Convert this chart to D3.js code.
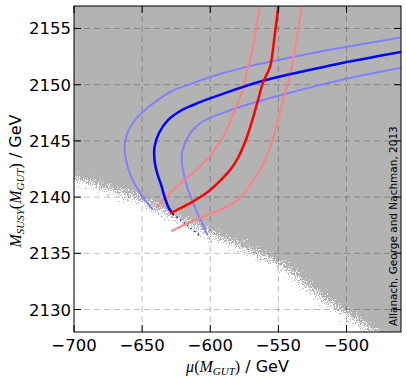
<!DOCTYPE html>
<meta charset="utf-8">
<style>
body { margin: 0; background: #fff; }
text { font-family: "DejaVu Sans", sans-serif; }
.tick-label { font-size: 16.5px; fill: #000; }
.math { font-family: "Liberation Serif", serif; font-style: italic; }
</style>
<body>
<script src="https://d3js.org/d3.v7.min.js"></script>
<script>

// axis ticks
var xTicks = [-700, -650, -600, -550, -500];
var yTicks = [2130, 2135, 2140, 2145, 2150, 2155];

// lower edge of the sampled (grey) region
var edgeMu = [-720, -700, -650, -615, -575, -550, -522, -485, -440];
var edgeM  = [2142.6, 2141.7, 2139.7, 2137.6, 2135.4, 2134.1, 2131.4, 2128.4, 2124.8];

// blue contours (central and the two outer ones)
var blueMu    = [-460, -512.1, -561.3, -592.8, -607.5, -620.7, -631.0, -637.6, -640.9, -640.9, -639.1, -636.1, -633.2, -630.3, -627.3];
var blueM     = [2152.9, 2151.7, 2150.35, 2149.1, 2148.45, 2147.75, 2146.85, 2145.7, 2144.45, 2143.3, 2142.2, 2141.1, 2139.9, 2139.0, 2138.5];
var blueOutMu = [-460, -512.1, -543.7, -570.8, -592.8, -614.9, -629.5, -638.3, -647.9, -656.0, -661.1, -662.9, -661.8, -658.9, -654.1, -648.6, -642.8];
var blueOutM  = [2154.2, 2153.1, 2152.35, 2151.65, 2150.95, 2150.05, 2149.35, 2148.65, 2147.75, 2146.75, 2145.6, 2144.45, 2143.3, 2142.05, 2140.9, 2139.85, 2139.0];
var blueInMu  = [-460, -504.8, -544.4, -570.8, -592.8, -605.3, -613.4, -618.2, -620.7, -620.7, -619.2, -616.7, -613.4, -609.7, -605.3, -602.4];
var blueInM   = [2151.5, 2150.4, 2149.2, 2148.3, 2147.4, 2146.75, 2145.9, 2144.9, 2143.9, 2142.95, 2141.9, 2140.8, 2139.75, 2138.65, 2137.5, 2136.7];

// sparse continuation of the blue contours inside the noisy edge
var blueTailMu    = [-627.3, -618, -608];
var blueTailM     = [2138.5, 2137.6, 2136.6];
var blueOutTailMu = [-642.8, -638, -633.2];
var blueOutTailM  = [2139.0, 2138.5, 2138.05];
var blueInTailMu  = [-602.4, -598.7];
var blueInTailM   = [2136.7, 2135.9];

// red contours
var redMu    = [-549.5, -552.8, -556.1, -561.1, -564.9, -568.6, -573.8, -579.6, -585.5, -592.8, -602.4, -612.7, -622.2, -628.8];
var redM     = [2157.5, 2154.3, 2151.6, 2150.25, 2148.65, 2147.05, 2145.1, 2143.5, 2142.4, 2141.45, 2140.4, 2139.6, 2139.0, 2138.6];
var redLoMu  = [-563.1, -567.2, -571.9, -577.4, -583.3, -589.9, -598.0, -607.5, -616.3, -624.6, -632.5, -639.1];
var redLoM   = [2157.5, 2154.3, 2151.65, 2149.1, 2147.3, 2145.5, 2144.0, 2142.7, 2141.8, 2140.9, 2140.0, 2139.1];
var redHiMu  = [-532.5, -536.3, -540.2, -543.3, -546.6, -550.3, -555.4, -562.0, -570.1, -578.2, -587.0, -595.8, -607.5, -617.8, -628.1];
var redHiM   = [2157.5, 2154.3, 2151.6, 2150.05, 2148.55, 2146.85, 2144.65, 2142.75, 2141.15, 2139.9, 2139.2, 2138.7, 2138.15, 2137.6, 2137.0];

var W = 407, H = 379;
var margin = {top: 6, right: 6, bottom: 47, left: 74};
var width = W - margin.left - margin.right,
    height = H - margin.top - margin.bottom;

var x = d3.scaleLinear().domain([-700, -460]).range([0, width]);
var y = d3.scaleLinear().domain([2128, 2157]).range([height, 0]);

var svg = d3.select("body").append("svg")
    .attr("width", W)
    .attr("height", H);

var defs = svg.append("defs");
defs.append("clipPath").attr("id", "plotclip")
  .append("rect").attr("width", width).attr("height", height);

// speckled edge of the scan region
var f = defs.append("filter").attr("id", "speckle")
    .attr("x", -0.1).attr("y", -0.1).attr("width", 1.2).attr("height", 1.2)
    .attr("color-interpolation-filters", "sRGB");
f.append("feTurbulence").attr("type", "fractalNoise")
    .attr("baseFrequency", 0.9).attr("numOctaves", 1).attr("seed", 3)
    .attr("result", "noise");
f.append("feDisplacementMap").attr("in", "SourceGraphic").attr("in2", "noise")
    .attr("scale", 34).attr("xChannelSelector", "R").attr("yChannelSelector", "G");

var g = svg.append("g").attr("transform", "translate(" + margin.left + "," + margin.top + ")");
var plot = g.append("g").attr("clip-path", "url(#plotclip)");

var edge = edgeMu.map(function(d, i) { return {mu: d, m: edgeM[i]}; });
var area = d3.area()
    .x(function(d) { return x(d.mu); })
    .y0(y(2162))
    .y1(function(d) { return y(d.m); })
    .curve(d3.curveMonotoneX);

plot.append("path")
    .datum(edge)
    .attr("d", area)
    .attr("fill", "#b3b3b3")
    .attr("filter", "url(#speckle)");

// grid
plot.selectAll(".gx").data(xTicks).enter().append("line")
    .attr("x1", function(d) { return x(d); }).attr("x2", function(d) { return x(d); })
    .attr("y1", 0).attr("y2", height)
    .attr("stroke", "rgba(0,0,0,0.25)").attr("stroke-dasharray", "6,4");
plot.selectAll(".gy").data(yTicks).enter().append("line")
    .attr("y1", function(d) { return y(d); }).attr("y2", function(d) { return y(d); })
    .attr("x1", 0).attr("x2", width)
    .attr("stroke", "rgba(0,0,0,0.25)").attr("stroke-dasharray", "6,4");

var line = d3.line()
    .x(function(d) { return x(d[0]); })
    .y(function(d) { return y(d[1]); })
    .curve(d3.curveCatmullRom.alpha(0.5));

function curve(mu, m, colour, w, dash) {
    var p = plot.append("path")
        .datum(mu.map(function(d, i) { return [d, m[i]]; }))
        .attr("d", line)
        .attr("fill", "none")
        .attr("stroke", colour)
        .attr("stroke-width", w)
        .attr("stroke-linecap", dash ? "butt" : "round");
    if (dash) p.attr("stroke-dasharray", dash).attr("opacity", 0.8);
}

curve(blueOutTailMu, blueOutTailM, "#8080ff", 1.5, "1.5,2.5");
curve(blueInTailMu, blueInTailM, "#8080ff", 1.5, "1.5,2.5");
curve(blueTailMu, blueTailM, "#0000ff", 1.5, "1.5,3");

curve(blueOutMu, blueOutM, "#8080ff", 2);
curve(blueInMu, blueInM, "#8080ff", 2);
curve(redLoMu, redLoM, "#ff8080", 2);
curve(redHiMu, redHiM, "#ff8080", 2);
curve(blueMu, blueM, "#0000ff", 2.5);
curve(redMu, redM, "#ff0000", 2.5);

// ticks inside on all sides
var tk = g.append("g");
xTicks.forEach(function(d) {
    tk.append("line").attr("x1", x(d)).attr("x2", x(d)).attr("y1", height).attr("y2", height - 7).attr("stroke", "#000");
    tk.append("line").attr("x1", x(d)).attr("x2", x(d)).attr("y1", 0).attr("y2", 7).attr("stroke", "#000");
});
yTicks.forEach(function(d) {
    tk.append("line").attr("y1", y(d)).attr("y2", y(d)).attr("x1", 0).attr("x2", 7).attr("stroke", "#000");
    tk.append("line").attr("y1", y(d)).attr("y2", y(d)).attr("x1", width).attr("x2", width - 7).attr("stroke", "#000");
});

g.append("rect").attr("width", width).attr("height", height)
    .attr("fill", "none").attr("stroke", "#000").attr("stroke-width", 1);

// tick labels
g.selectAll(".xl").data(xTicks).enter().append("text")
    .attr("class", "tick-label")
    .attr("x", function(d) { return x(d); })
    .attr("y", height + 19)
    .attr("text-anchor", "middle")
    .text(function(d) { return "\u2212" + Math.abs(d); });
g.selectAll(".yl").data(yTicks).enter().append("text")
    .attr("class", "tick-label")
    .attr("x", -3)
    .attr("y", function(d) { return y(d) + 6; })
    .attr("text-anchor", "end")
    .text(function(d) { return d; });

// axis titles
var xt = svg.append("text")
    .attr("x", margin.left + width / 2)
    .attr("y", 372)
    .attr("text-anchor", "middle")
    .style("font-size", "16px");
xt.append("tspan").attr("class", "math").text("\u03bc");
xt.append("tspan").style("font-family", "Liberation Serif").text("(");
xt.append("tspan").attr("class", "math").text("M");
xt.append("tspan").attr("class", "math").attr("dy", 3).style("font-size", "11px").text("GUT");
xt.append("tspan").attr("dy", -3).style("font-family", "Liberation Serif").text(")");
xt.append("tspan").text(" / GeV");

var yt = svg.append("text")
    .attr("transform", "translate(21," + (margin.top + height / 2 + 12) + ") rotate(-90)")
    .attr("text-anchor", "middle")
    .style("font-size", "16px");
yt.append("tspan").attr("class", "math").text("M");
yt.append("tspan").attr("class", "math").attr("dy", 3).style("font-size", "11px").text("SUSY");
yt.append("tspan").attr("dy", -3).style("font-family", "Liberation Serif").text("(");
yt.append("tspan").attr("class", "math").text("M");
yt.append("tspan").attr("class", "math").attr("dy", 3).style("font-size", "11px").text("GUT");
yt.append("tspan").attr("dy", -3).style("font-family", "Liberation Serif").text(")");
yt.append("tspan").text(" / GeV");

// credit
g.append("text")
    .attr("transform", "translate(" + (width - 4) + "," + (height - 6) + ") rotate(-90)")
    .style("font-size", "10.5px")
    .text("Allanach, George and Nachman, 2013");

</script>
</body>
